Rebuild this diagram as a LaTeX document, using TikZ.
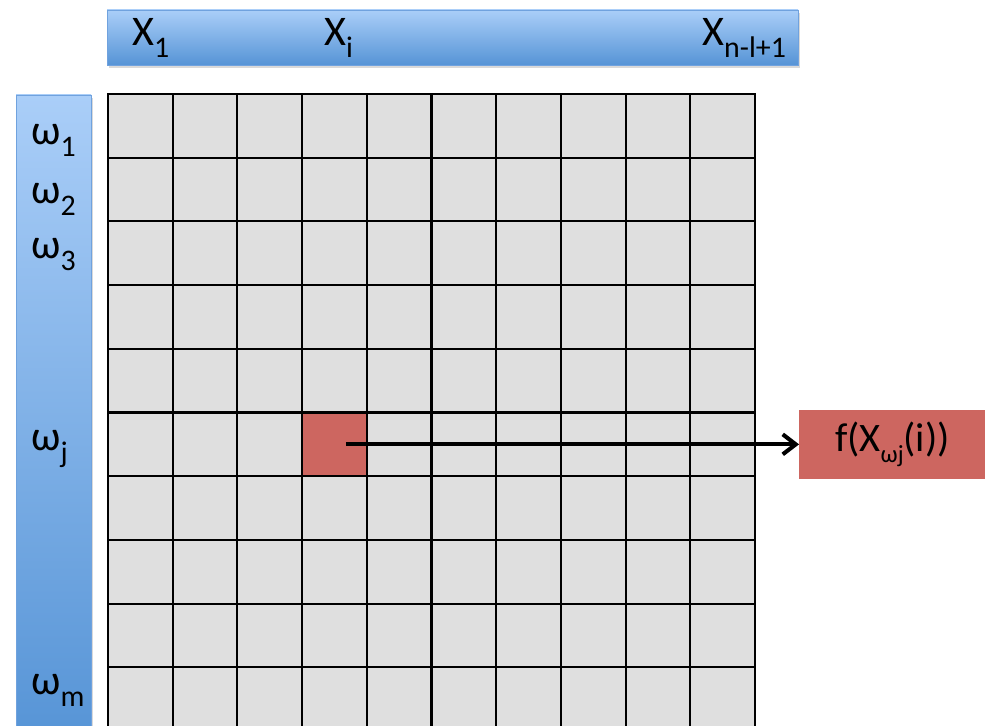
\documentclass[tikz,border=0pt]{standalone}
\usepackage{fontspec}
\setmainfont{Carlito}
\usepackage{xcolor}
\usepackage{tikz}
\usetikzlibrary{arrows.meta, positioning, calc, shadows}
\definecolor{myred}{RGB}{205,102,96}
\definecolor{mygrey}{RGB}{223,223,223}
\definecolor{bartop}{RGB}{170,206,248}
\definecolor{barbot}{RGB}{86,148,214}
\definecolor{baredge}{RGB}{112,162,222}
\newcommand{\lowidx}[2][17]{\raisebox{-6.5pt}{\fontsize{#1}{#1}\selectfont #2}}
\tikzset{
  cell/.style={rectangle, draw=black, fill=mygrey,
    minimum width=1.294cm, minimum height=1.274cm, inner sep=0pt, line width=1.2pt},
  hotcell/.style={cell, fill=myred},
  hbar/.style={rectangle, draw=baredge, top color=bartop, bottom color=barbot,
    inner sep=0pt, line width=0.5pt,
    drop shadow={shadow xshift=1pt, shadow yshift=-1.5pt, opacity=0.3}},
  vbar/.style={hbar},
  idx/.style={inner sep=0pt, font=\fontsize{24}{28}\selectfont},
  outbox/.style={rectangle, fill=myred, minimum width=3.72cm, minimum height=1.38cm,
    inner sep=0pt, font=\fontsize{23}{27}\selectfont},
  arrow/.style={-{Straight Barb[length=2.6mm,width=4mm]}, line width=2.3pt, color=black}
}
\begin{document}
\begin{tikzpicture}
  \useasboundingbox (0,0) rectangle (19.76,14.52);
  % Index bars
  \node[hbar, minimum width=13.82cm, minimum height=1.1cm] (xbar) at (9.05,13.77) {};
  \node[vbar, minimum width=1.5cm, minimum height=12.92cm] (wbar) at (1.07,6.16) {};

  \node[idx, anchor=base west] (x1) at (2.64,13.6) {X\lowidx{1}};
  \node[idx, anchor=base west] (xi) at (6.48,13.6) {X\lowidx{i}};
  \node[idx, anchor=base west] (xn) at (14.04,13.6) {X\lowidx{n-l+1}};

  \node[idx, anchor=base west] (w1) at (0.62,11.62) {ω\lowidx{1}};
  \node[idx, anchor=base west] (w2) at (0.62,10.44) {ω\lowidx{2}};
  \node[idx, anchor=base west] (w3) at (0.62,9.34) {ω\lowidx{3}};
  \node[idx, anchor=base west] (wj) at (0.62,5.5) {ω\lowidx{j}};
  \node[idx, anchor=base west] (wm) at (0.62,0.62) {ω\lowidx{m}};

  % Grid of cells
  \foreach \r in {0,...,9}
    \foreach \c in {0,...,9}
      \node[cell] (c\r\c) at ({2.807+1.294*\c},{12.003-1.274*\r}) {};
  \node[hotcell] (hot) at (c53) {};

  % Output value
  \node[outbox, right=0.86cm of c59] (fval) {f(X\lowidx[14]{ωj}(i))};
  \draw[arrow] ([xshift=0.23cm]hot.center) -- (fval.west);
\end{tikzpicture}
\end{document}
